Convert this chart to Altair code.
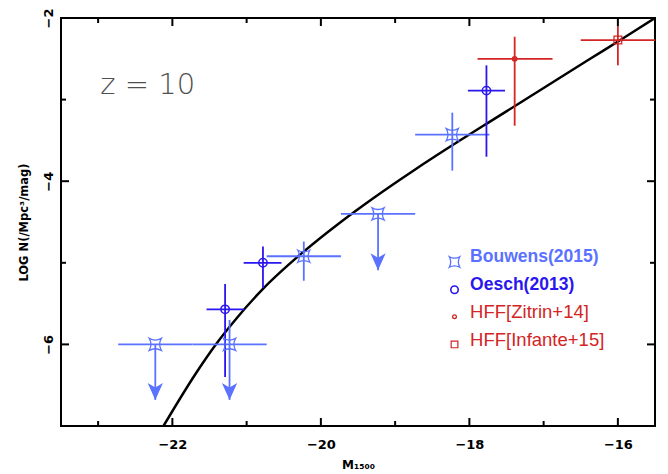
import altair as alt
import pandas as pd

# ---------------- data ----------------
# Model curve (black line)
curve_x = [-22.12, -21.68, -21.41, -21.14, -20.78, -20.26, -19.74, -19.29,
           -18.75, -18.23, -17.75, -17.30, -16.40, -15.95, -15.50]
curve_y = [-7.00, -6.35, -5.995, -5.685, -5.32, -4.885, -4.505, -4.205,
           -3.868, -3.56, -3.285, -3.03, -2.515, -2.26, -2.00]

# Bouwens (2015)
bou_x = [-22.23, -21.23, -20.23, -19.23, -18.23]
bou_y = [-6.00, -6.00, -4.92, -4.40, -3.43]
bou_xlo = [-22.73, -21.73, -20.73, -19.73, -18.73]
bou_xhi = [-21.73, -20.73, -19.73, -18.73, -17.73]
bou_ylo = [-6.00, -6.00, -5.22, -4.40, -3.87]
bou_yhi = [-6.00, -5.70, -4.74, -4.40, -3.16]
# upper limits (arrows)
lim_x = [-22.23, -21.23, -19.23]
lim_y = [-6.00, -6.00, -4.40]
lim_tip = [-6.68, -6.68, -5.09]

# Oesch (2013)
oes_x = [-21.29, -20.78, -17.77]
oes_y = [-5.57, -5.00, -2.89]
oes_xlo = [-21.54, -21.04, -18.02]
oes_xhi = [-21.03, -20.53, -17.52]
oes_ylo = [-6.40, -5.31, -3.70]
oes_yhi = [-5.26, -4.80, -2.58]

# HFF [Zitrin+14]
zit_x = [-17.39]
zit_y = [-2.50]
zit_xlo = [-17.89]
zit_xhi = [-16.88]
zit_ylo = [-3.32]
zit_yhi = [-2.23]

# HFF [Infante+15]
inf_x = [-16.00]
inf_y = [-2.27]
inf_xlo = [-16.50]
inf_xhi = [-15.50]
inf_ylo = [-2.58]
inf_yhi = [-2.09]

# legend
leg_labels = ["Bouwens(2015)", "Oesch(2013)", "HFF[Zitrin+14]", "HFF[Infante+15]"]
leg_marker_x = -18.20
leg_text_x = -17.99
leg_marker_y = [-4.99, -5.33, -5.66, -6.00]
leg_text_y = [-4.93, -5.27, -5.60, -5.94]

# ticks
x_major = [-22, -20, -18, -16]
x_minor = [-23, -21, -19, -17]
y_major = [-2, -4, -6]
y_minor = [-3, -5]

# ---------------- styling ----------------
C_BOU = "#5a72ff"
C_OES = "#2a16ee"
C_RED = "#d42424"
W, H = 594, 408
XD = [-23.5, -15.5]
YD = [-7.0, -2.0]
FONT = "DejaVu Sans"

BOU_SHAPE = "M-1,-1 Q0,-0.45 1,-1 Q0.45,0 1,1 Q0,0.45 -1,1 Q-0.45,0 -1,-1 Z"
ARROW_SHAPE = "M0,0 L-0.9,-2 L0,-1.45 L0.9,-2 Z"

X_AXIS = alt.Axis(values=x_major, tickSize=0, domain=False, grid=False,
                  labelFont=FONT, labelFontSize=13, labelFontWeight="bold",
                  labelColor="black", labelPadding=12,
                  title="M₁₅₀₀", titleFont=FONT, titleFontSize=12,
                  titleFontWeight="bold", titleColor="black", titlePadding=8)
Y_AXIS = alt.Axis(values=y_major, tickSize=0, domain=False, grid=False,
                  labelFont=FONT, labelFontSize=13, labelFontWeight="bold",
                  labelColor="black", labelPadding=6, labelAngle=270,
                  title="LOG N(/Mpc³/mag)", titleFont=FONT, titleFontSize=11.5,
                  titleFontWeight="bold", titleColor="black", titlePadding=13)


def X(field="x"):
    return alt.X(field, type="quantitative",
                 scale=alt.Scale(domain=XD, nice=False, zero=False),
                 axis=X_AXIS, title="M₁₅₀₀")


def Y(field="y"):
    return alt.Y(field, type="quantitative",
                 scale=alt.Scale(domain=YD, nice=False, zero=False),
                 axis=Y_AXIS, title="LOG N(/Mpc³/mag)")


def err_layers(xs, ys, xlo, xhi, ylo, yhi, color):
    d = pd.DataFrame({"x": xs, "y": ys, "xlo": xlo, "xhi": xhi, "ylo": ylo, "yhi": yhi})
    h = alt.Chart(d).mark_rule(color=color, strokeWidth=1.8, clip=True).encode(
        x=X("xlo"), x2="xhi", y=Y("y"))
    v = alt.Chart(d).mark_rule(color=color, strokeWidth=1.8, clip=True).encode(
        x=X("x"), y=Y("ylo"), y2="yhi")
    return [h, v]


layers = []

# curve
curve_df = pd.DataFrame({"x": curve_x, "y": curve_y})
layers.append(alt.Chart(curve_df).mark_line(color="black", strokeWidth=2.5,
                                             interpolate="monotone", clip=True)
              .encode(x=X("x"), y=Y("y")))

# error bars
layers += err_layers(bou_x, bou_y, bou_xlo, bou_xhi, bou_ylo, bou_yhi, C_BOU)
layers += err_layers(oes_x, oes_y, oes_xlo, oes_xhi, oes_ylo, oes_yhi, C_OES)
layers += err_layers(zit_x, zit_y, zit_xlo, zit_xhi, zit_ylo, zit_yhi, C_RED)
layers += err_layers(inf_x, inf_y, inf_xlo, inf_xhi, inf_ylo, inf_yhi, C_RED)

# upper limit arrows
lim_df = pd.DataFrame({"x": lim_x, "y": lim_y, "tip": lim_tip})
layers.append(alt.Chart(lim_df).mark_rule(color=C_BOU, strokeWidth=1.8)
              .encode(x=X("x"), y=Y("y"), y2="tip"))
layers.append(alt.Chart(lim_df).mark_point(shape=ARROW_SHAPE, size=289, filled=True,
                                           color=C_BOU, opacity=1, strokeWidth=0)
              .encode(x=X("x"), y=Y("tip")))

# markers
bou_df = pd.DataFrame({"x": bou_x, "y": bou_y})
layers.append(alt.Chart(bou_df).mark_point(shape=BOU_SHAPE, size=144, filled=False,
                                           color=C_BOU, strokeWidth=1.3, opacity=1)
              .encode(x=X("x"), y=Y("y")))
oes_df = pd.DataFrame({"x": oes_x, "y": oes_y})
layers.append(alt.Chart(oes_df).mark_point(shape="circle", size=70, filled=False,
                                           color=C_OES, strokeWidth=1.5, opacity=1)
              .encode(x=X("x"), y=Y("y")))
zit_df = pd.DataFrame({"x": zit_x, "y": zit_y})
layers.append(alt.Chart(zit_df).mark_point(shape="circle", size=18, filled=False,
                                           color=C_RED, strokeWidth=1.6, opacity=1)
              .encode(x=X("x"), y=Y("y")))
inf_df = pd.DataFrame({"x": inf_x, "y": inf_y})
layers.append(alt.Chart(inf_df).mark_point(shape="square", size=60, filled=False,
                                           color=C_RED, strokeWidth=1.3, opacity=1, clip=True)
              .encode(x=X("x"), y=Y("y")))

# legend
leg_df = pd.DataFrame({
    "label": leg_labels,
    "mx": [leg_marker_x] * 4,
    "tx": [leg_text_x] * 4,
    "my": leg_marker_y,
    "ty": leg_text_y,
})
leg_colors = [C_BOU, C_OES, C_RED, C_RED]
leg_weights = ["bold", "bold", "normal", "normal"]
leg_sizes = [17.5, 17.5, 18.5, 18.5]
layers.append(alt.Chart(leg_df.iloc[[0]]).mark_point(shape=BOU_SHAPE, size=110, filled=False,
                                                      color=C_BOU, strokeWidth=1.3, opacity=1)
              .encode(x=X("mx"), y=Y("my")))
layers.append(alt.Chart(leg_df.iloc[[1]]).mark_point(shape="circle", size=55, filled=False,
                                                      color=C_OES, strokeWidth=1.6, opacity=1)
              .encode(x=X("mx"), y=Y("my")))
layers.append(alt.Chart(leg_df.iloc[[2]]).mark_point(shape="circle", size=14, filled=False,
                                                      color=C_RED, strokeWidth=1.3, opacity=1)
              .encode(x=X("mx"), y=Y("my")))
layers.append(alt.Chart(leg_df.iloc[[3]]).mark_point(shape="square", size=45, filled=False,
                                                      color=C_RED, strokeWidth=1.2, opacity=1)
              .encode(x=X("mx"), y=Y("my")))
for i in range(4):
    layers.append(alt.Chart(leg_df.iloc[[i]]).mark_text(
        align="left", baseline="middle", font="Liberation Sans", fontSize=leg_sizes[i],
        fontWeight=leg_weights[i], color=leg_colors[i])
        .encode(x=X("tx"), y=Y("ty"), text="label:N"))

# z = 10 annotation
z_df = pd.DataFrame({"x": [-22.97], "y": [-2.82], "t": ["z = 10"]})
layers.append(alt.Chart(z_df).mark_text(align="left", baseline="middle", font="DejaVu Sans",
                                        fontWeight=200, fontSize=29, color="#505050")
              .encode(x=X("x"), y=Y("y"), text="t:N"))

# inward ticks on all four sides
xmaj = pd.DataFrame({"v": x_major})
xmin = pd.DataFrame({"v": x_minor})
ymaj = pd.DataFrame({"v": y_major})
ymin = pd.DataFrame({"v": y_minor})
for df, L in [(xmaj, 8), (xmin, 5)]:
    layers.append(alt.Chart(df).mark_rule(color="black", strokeWidth=2)
                  .encode(x=X("v"), y=alt.value(H), y2=alt.value(H - L)))
    layers.append(alt.Chart(df).mark_rule(color="black", strokeWidth=2)
                  .encode(x=X("v"), y=alt.value(0), y2=alt.value(L)))
for df, L in [(ymaj, 8), (ymin, 5)]:
    layers.append(alt.Chart(df).mark_rule(color="black", strokeWidth=2)
                  .encode(y=Y("v"), x=alt.value(0), x2=alt.value(L)))
    layers.append(alt.Chart(df).mark_rule(color="black", strokeWidth=2)
                  .encode(y=Y("v"), x=alt.value(W), x2=alt.value(W - L)))

chart = alt.layer(*layers).properties(
    width=W, height=H,
    autosize=alt.AutoSizeParams(type="none"),
    padding={"left": 53, "top": 10, "right": 5, "bottom": 45},
    background="white",
).configure_view(stroke="black", strokeWidth=2)

chart.save("out.html", embed_options={"renderer": "svg", "actions": False})
